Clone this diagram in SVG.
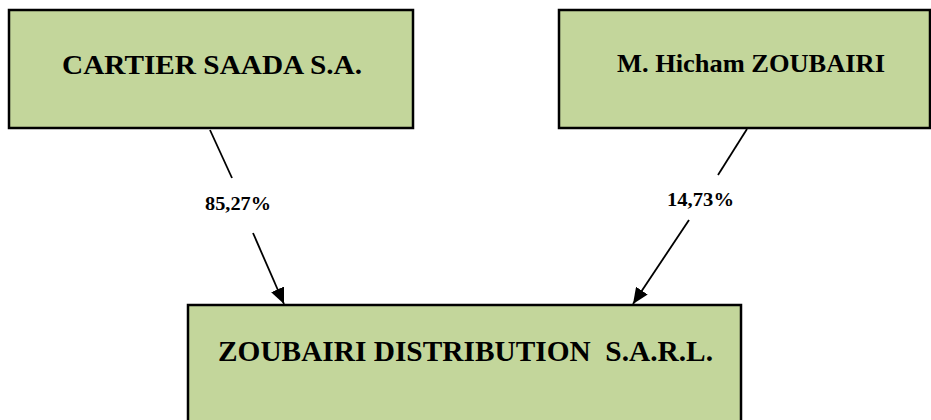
<svg xmlns="http://www.w3.org/2000/svg" width="931" height="420" viewBox="0 0 931 420">
<style>
.box{fill:#C3D69B;stroke:#000;stroke-width:2.5}
.t{font-family:'Liberation Serif','Times New Roman','DejaVu Serif',serif;font-weight:700;fill:#000}
.ln{stroke:#000;stroke-width:1.8;fill:none}
</style>
<defs>
<marker id="ah" viewBox="0 0 16 14" refX="16" refY="7" markerWidth="16" markerHeight="14" markerUnits="userSpaceOnUse" orient="auto">
<path d="M0,0 L16,7 L0,14 Z" fill="#000"/>
</marker>
</defs>
<g id="node-cartier">
<rect class="box" x="9" y="10" width="404" height="118"/>
<text class="t" font-family="Liberation Serif, serif" x="62" y="74" font-size="27" textLength="300" lengthAdjust="spacingAndGlyphs">CARTIER SAADA S.A.</text>
</g>
<g id="node-hicham">
<rect class="box" x="559" y="10" width="371" height="118"/>
<text class="t" font-family="Liberation Serif, serif" x="617" y="72" font-size="25" textLength="268" lengthAdjust="spacingAndGlyphs">M. Hicham ZOUBAIRI</text>
</g>
<g id="node-zoubairi">
<rect class="box" x="188" y="305" width="553" height="130"/>
<text class="t" font-family="Liberation Serif, serif" x="218" y="361" font-size="29" textLength="495" lengthAdjust="spacingAndGlyphs" xml:space="preserve">ZOUBAIRI DISTRIBUTION  S.A.R.L.</text>
</g>
<g id="connectors">
<line class="ln" x1="210" y1="130" x2="232" y2="178"/>
<line class="ln" x1="253" y1="233" x2="284" y2="304" marker-end="url(#ah)"/>
<text class="t" font-family="Liberation Serif, serif" x="205" y="210" font-size="19" textLength="66" lengthAdjust="spacingAndGlyphs">85,27%</text>
<line class="ln" x1="747" y1="129" x2="718" y2="175"/>
<line class="ln" x1="689" y1="220" x2="633" y2="304" marker-end="url(#ah)"/>
<text class="t" font-family="Liberation Serif, serif" x="667" y="205.5" font-size="19" textLength="67" lengthAdjust="spacingAndGlyphs">14,73%</text>
</g>
</svg>
